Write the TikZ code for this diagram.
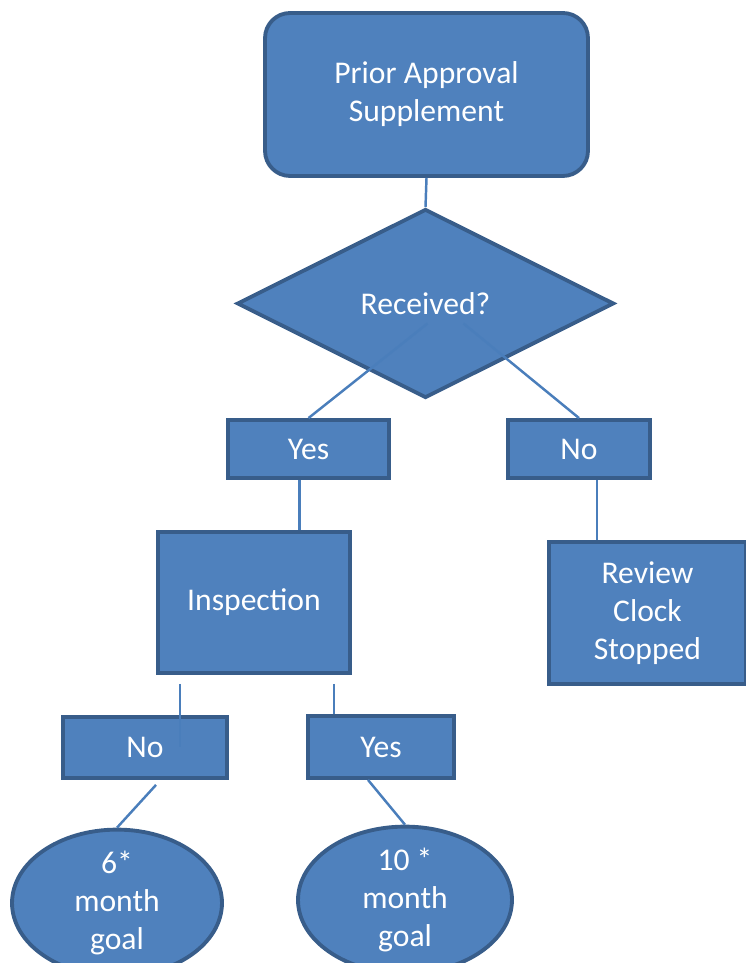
\documentclass[tikz,border=0pt]{standalone}
\usepackage{fontspec}
\setmainfont{Carlito}
\usetikzlibrary{positioning, calc, shapes.geometric}
\definecolor{boxfill}{HTML}{4F81BD}
\definecolor{boxline}{HTML}{385D8A}
\definecolor{linkline}{HTML}{4A7EBB}
\tikzset{
    blk/.style={draw=boxline, fill=boxfill, line width=2.2pt, text=white, align=center, inner sep=0pt, font=\fontsize{18}{21.6}\selectfont},
    link/.style={draw=linkline, line width=1.4pt}
}

\begin{document}
\begin{tikzpicture}[x=0.02cm, y=0.02cm]
            \useasboundingbox (0,0) rectangle (746,963);
            \node[blk, rounded corners=0.5cm, minimum width=6.46cm, minimum height=3.26cm] (top) at (426.5,868.5) {Prior Approval\\Supplement};
            \node[blk, diamond, minimum width=7.54cm, minimum height=3.78cm] (dec) at (425.5,659.5) {Received?};
            \node[blk, minimum width=3.22cm, minimum height=1.16cm] (yes1) at (308.5,514) {Yes};
            \node[blk, minimum width=2.84cm, minimum height=1.16cm] (no1) at (579,514) {No};
            \node[blk, minimum width=3.84cm, minimum height=2.82cm] (insp) at (254,360.5) {Inspection};
            \node[blk, minimum width=3.94cm, minimum height=2.84cm] (rev) at (647.5,350) {Review\\Clock\\Stopped};
            \node[blk, minimum width=3.28cm, minimum height=1.22cm] (no2) at (145,215.5) {No};
            \node[blk, minimum width=2.92cm, minimum height=1.24cm] (yes2) at (381,216) {Yes};
            \node[blk, ellipse, minimum width=4.2cm, minimum height=2.6cm] (six) at (117,60) {6*\\month\\goal};
            \node[blk, ellipse, minimum width=4.28cm, minimum height=2.64cm] (ten) at (405,63) {10 *\\month\\goal};
            % connectors
            \draw[link] (top.south) -- (dec.north);
            \draw[link] ($(dec.center)+(2,-20)$) -- (yes1.north);
            \draw[link] ($(dec.center)+(38,-20)$) -- (no1.north);
            \coordinate (c1) at ($(yes1.south)+(-9,0)$);
            \draw[link] (c1) -- (c1 |- insp.north);
            \coordinate (c2) at ($(no1.south)+(18,0)$);
            \draw[link] (c2) -- (c2 |- rev.north);
            \coordinate (c3) at ($(insp.south)+(-74,-9)$);
            \draw[link] (c3) -- (c3 |- no2.center);
            \coordinate (c4) at ($(insp.south)+(80,-9)$);
            \draw[link] (c4) -- (c4 |- yes2.north);
            \draw[link] ($(no2.south)+(11,-5)$) -- (six.north);
            \draw[link] ($(yes2.south)+(-13,0)$) -- (ten.north);
        \end{tikzpicture}
\end{document}
